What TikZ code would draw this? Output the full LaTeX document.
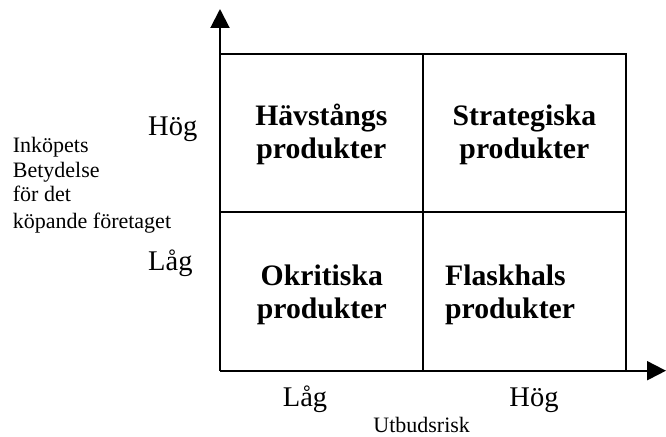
\documentclass[tikz,border=0pt]{standalone}
\usepackage{fontspec}
\setmainfont{Liberation Serif}
\usetikzlibrary{arrows.meta}
\begin{document}
\begin{tikzpicture}[x=1pt,y=-1pt,
  ln/.style={line width=2pt},
  ax/.style={line width=2pt,-{Triangle[length=19pt,width=19pt]}},
  big/.style={inner sep=0pt,font=\fontsize{28.5}{33}\selectfont},
  bigb/.style={inner sep=0pt,font=\fontsize{29.7}{33}\selectfont\bfseries},
  small/.style={inner sep=0pt,font=\fontsize{22}{24.5}\selectfont}]
\useasboundingbox (0,0) rectangle (666,436);
\coordinate (o) at (220,370.7);
\coordinate (ytip) at (220,9);
\coordinate (xtip) at (666,370.7);
\coordinate (tl) at (220,54);
\coordinate (tr) at (626,54);
\coordinate (br) at (626,370.7);
\coordinate (tm) at (422.7,54);
\coordinate (bm) at (422.7,370.7);
\coordinate (ml) at (220,212);
\coordinate (mr) at (626,212);
\draw[ln] (tl) -- (tr) -- (br);
\draw[ln] (tm) -- (bm);
\draw[ln] (ml) -- (mr);
\draw[ax] (o) -- (ytip);
\draw[ax] (o) -- (xtip);
% cell texts
\node[bigb,anchor=base] (hav) at (321.3,125) {Hävstångs};
\node[bigb,anchor=base] (hav2) at (321.3,158) {produkter};
\node[bigb,anchor=base] (str) at (524.4,125) {Strategiska};
\node[bigb,anchor=base] (str2) at (524.4,158) {produkter};
\node[bigb,anchor=base] (okr) at (321.8,285) {Okritiska};
\node[bigb,anchor=base] (okr2) at (321.8,318) {produkter};
\node[bigb,anchor=base west] (fla) at (445,285) {Flaskhals};
\node[bigb,anchor=base west] (fla2) at (445,318) {produkter};
% axis labels
\node[big,anchor=base west] (yh) at (148,135) {Hög};
\node[big,anchor=base west] (yl) at (148,270) {Låg};
\node[big,anchor=base] (xl) at (305,406.7) {Låg};
\node[big,anchor=base] (xh) at (534,406.7) {Hög};
\node[small,anchor=base] (xlab) at (421.7,432.7) {Utbudsrisk};
\node[small,anchor=base west] (y1) at (12.7,152.7) {Inköpets};
\node[small,anchor=base west] (y2) at (12.7,177.2) {Betydelse};
\node[small,anchor=base west] (y3) at (12.7,201.7) {för det};
\node[small,anchor=base west] (y4) at (12.7,228) {köpande företaget};
\end{tikzpicture}
\end{document}
